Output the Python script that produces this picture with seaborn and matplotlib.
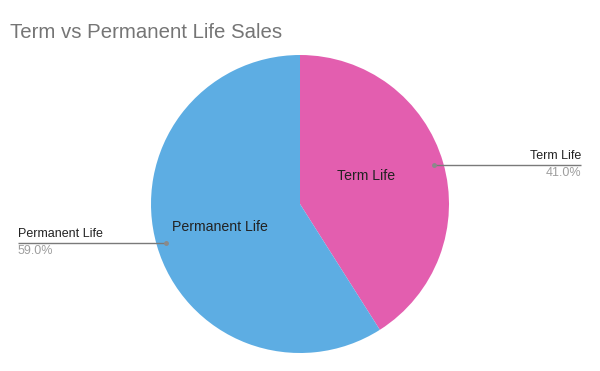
import numpy as np
import matplotlib
matplotlib.use("Agg")
import matplotlib.pyplot as plt
import seaborn as sns

categories = ["Term Life", "Permanent Life"]
values = [41.0, 59.0]
colors = ["#E35EAF", "#5DADE3"]
title = "Term vs Permanent Life Sales"

sns.set_theme(style="white")
plt.rcParams['font.family'] = ['Liberation Sans', 'DejaVu Sans']

W, H = 600, 371
fig = plt.figure(figsize=(W / 100, H / 100), dpi=100)
ax = fig.add_axes([0, 0, 1, 1])

cx, cy, R = 300, H - 204, 149
wedges, _ = ax.pie(values, colors=colors, startangle=90, counterclock=False,
                   center=(cx, cy), radius=R, frame=True,
                   wedgeprops=dict(linewidth=0))
ax.set_xlim(0, W)
ax.set_ylim(0, H)
ax.set_aspect('equal')
ax.axis('off')

# inner labels
inner_pos = [(366, H - 176), (220, H - 227)]
for (x, y), name in zip(inner_pos, categories):
    ax.text(x, y, name, ha='center', va='center', fontsize=10.2, color='#222222')

# outer leader labels
total = sum(values)
start = 90.0
for i, (name, v) in enumerate(zip(categories, values)):
    span = v / total * 360
    mid = np.deg2rad(start - span / 2)
    start -= span
    x0 = cx + 140 * np.cos(mid)
    y0 = cy + 140 * np.sin(mid)
    if np.cos(mid) > 0:
        x1, ha = 581, 'right'
    else:
        x1, ha = 18, 'left'
    ax.plot([x0, x1], [y0, y0], color='#7a7a7a', lw=1, solid_capstyle='butt')
    ax.plot([x0], [y0], 'o', color='#8a8a8a', ms=2.5)
    ax.text(x1, y0 + 3, name, ha=ha, va='bottom', fontsize=9, color='#222222')
    ax.text(x1, y0 - 2, f"{v:.1f}%", ha=ha, va='top', fontsize=9, color='#9e9e9e')

fig.text(10 / W, 1 - 32 / H, title, ha='left', va='center', fontsize=14.7, color='#757575')

fig.savefig("out.png", dpi=100)
